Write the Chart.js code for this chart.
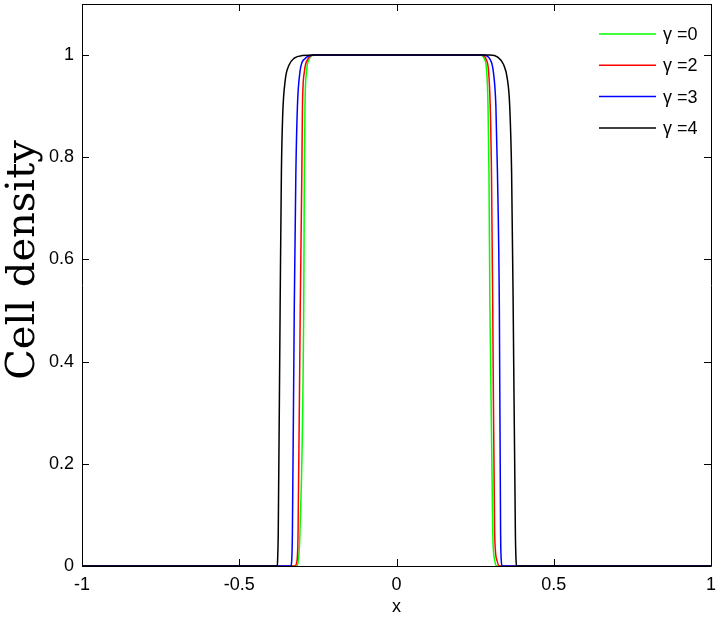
<!DOCTYPE html>
<html>
<head>
<meta charset="utf-8">
<script src="https://cdn.jsdelivr.net/npm/chart.js@4/dist/chart.umd.min.js"></script>
<style>
html,body{margin:0;padding:0;background:#fff;}
#wrap{width:720px;height:621px;}
</style>
</head>
<body>
<div id="wrap"><canvas id="c" width="720" height="621"></canvas></div>
<script>
// ---- data ----
const seriesLabels = ['\u03b3 =0', '\u03b3 =2', '\u03b3 =3', '\u03b3 =4'];
const seriesColors = ['#00ff00', '#ff0000', '#0000ff', '#000000'];

const xGamma0 = [-1, -0.317, -0.312, -0.307, -0.295, -0.293, -0.291, -0.286, -0.278, -0.262, 0.265, 0.280, 0.287, 0.291, 0.294, 0.297, 0.306, 0.312, 0.319, 1];
const yGamma0 = [0, 0, 0.012, 0.065, 0.508, 0.77, 0.90, 0.967, 0.992, 1, 1, 0.992, 0.967, 0.90, 0.77, 0.508, 0.065, 0.012, 0, 0];

const xGamma2 = [-1, -0.323, -0.316, -0.313, -0.306, -0.301, -0.299, -0.293, -0.282, -0.262, 0.270, 0.285, 0.293, 0.298, 0.302, 0.306, 0.312, 0.319, 0.327, 1];
const yGamma2 = [0, 0, 0.012, 0.065, 0.508, 0.77, 0.90, 0.967, 0.992, 1, 1, 0.992, 0.967, 0.90, 0.77, 0.508, 0.065, 0.012, 0, 0];

const xGamma3 = [-1, -0.336, -0.333, -0.331, -0.325, -0.320, -0.315, -0.307, -0.293, -0.260, 0.275, 0.297, 0.308, 0.316, 0.321, 0.327, 0.331, 0.333, 0.336, 1];
const yGamma3 = [0, 0, 0.012, 0.065, 0.508, 0.77, 0.90, 0.967, 0.992, 1, 1, 0.992, 0.967, 0.90, 0.77, 0.508, 0.065, 0.012, 0, 0];

const xGamma4 = [-1, -0.379, -0.378, -0.376, -0.370, -0.366, -0.362, -0.354, -0.342, -0.325, -0.300, -0.255, 0.297, 0.322, 0.340, 0.352, 0.360, 0.366, 0.371, 0.378, 0.380, 0.382, 1];
const yGamma4 = [0, 0, 0.012, 0.065, 0.508, 0.77, 0.88, 0.950, 0.980, 0.994, 0.999, 1, 1, 0.996, 0.982, 0.955, 0.90, 0.77, 0.508, 0.065, 0.012, 0, 0];

const xTicks = [-1, -0.5, 0, 0.5, 1];
const yTicks = [0, 0.2, 0.4, 0.6, 0.8, 1];
const xTitle = 'x';
const yTitle = 'Cell density';

// ---- build datasets ----
function pts(xs, ys){ return xs.map((x,i)=>({x:x, y:ys[i]})); }
const seriesX = [xGamma0, xGamma2, xGamma3, xGamma4];
const seriesY = [yGamma0, yGamma2, yGamma3, yGamma4];
const datasets = seriesLabels.map((lab,i)=>({
  label: lab,
  data: pts(seriesX[i], seriesY[i]),
  borderColor: seriesColors[i],
  backgroundColor: seriesColors[i],
  borderWidth: 1.5,
  pointRadius: 0,
  fill: false,
  cubicInterpolationMode: 'monotone',
  order: 4 - i
}));

const TICK_FONT = {family: "'Liberation Sans', Arial, sans-serif", size: 18};

const framePlugin = {
  id: 'frame',
  afterDatasetsDraw(chart){
    const {ctx, chartArea:a, scales} = chart;
    ctx.save();
    ctx.strokeStyle = '#000';
    ctx.lineWidth = 1;
    ctx.beginPath();
    ctx.rect(Math.round(a.left)+0.5, Math.round(a.top)+0.5, Math.round(a.right-a.left), Math.round(a.bottom-a.top));
    ctx.stroke();
    const L = 7;
    ctx.beginPath();
    scales.x.ticks.forEach(t=>{
      const px = Math.round(scales.x.getPixelForValue(t.value))+0.5;
      ctx.moveTo(px, a.bottom); ctx.lineTo(px, a.bottom - L);
      ctx.moveTo(px, a.top); ctx.lineTo(px, a.top + L);
    });
    scales.y.ticks.forEach(t=>{
      const py = Math.round(scales.y.getPixelForValue(t.value))+0.5;
      ctx.moveTo(a.left, py); ctx.lineTo(a.left + L, py);
      ctx.moveTo(a.right, py); ctx.lineTo(a.right - L, py);
    });
    ctx.stroke();
    ctx.restore();
  },
  afterDraw(chart){
    const ctx = chart.ctx;
    // y axis title
    ctx.save();
    ctx.fillStyle = '#000';
    ctx.font = "40px 'DejaVu Serif', serif";
    ctx.translate(34, 260);
    ctx.rotate(-Math.PI/2);
    ctx.textAlign = 'center';
    ctx.textBaseline = 'alphabetic';
    ctx.fillText(yTitle, 0, 0);
    ctx.restore();
    // legend inside the plot
    ctx.save();
    ctx.font = "18px 'Liberation Sans', Arial, sans-serif";
    ctx.textBaseline = 'middle';
    ctx.textAlign = 'left';
    [0,1,2,3].forEach((i,k)=>{
      const y = 34 + k*31.3;
      ctx.strokeStyle = seriesColors[i];
      ctx.lineWidth = 1.5;
      ctx.beginPath();
      ctx.moveTo(599, y); ctx.lineTo(656, y);
      ctx.stroke();
      ctx.fillStyle = '#000';
      ctx.fillText(seriesLabels[i], 663, y + 1);
    });
    ctx.restore();
  }
};

new Chart(document.getElementById('c'), {
  type: 'line',
  data: { datasets: datasets },
  options: {
    responsive: false,
    devicePixelRatio: 1,
    animation: false,
    layout: { padding: { top: 4, right: 9, left: 0, bottom: 0 } },
    plugins: { legend: { display: false }, tooltip: { enabled: false } },
    scales: {
      x: {
        type: 'linear', min: -1, max: 1,
        grid: { display: false, drawTicks: false },
        border: { display: false },
        afterBuildTicks: s => { s.ticks = xTicks.map(v=>({value:v})); },
        afterFit: s => { s.height = 55; s.paddingLeft = 0; s.paddingRight = 0; },
        ticks: { color: '#000', font: TICK_FONT, padding: 8, maxRotation: 0, autoSkip: false,
                 callback: v => String(v) },
        title: { display: true, text: xTitle, color: '#000', font: TICK_FONT, padding: { top: 0, bottom: 3 } }
      },
      y: {
        type: 'linear', min: 0, max: 1.1,
        grid: { display: false, drawTicks: false },
        border: { display: false },
        afterBuildTicks: s => { s.ticks = yTicks.map(v=>({value:v})); },
        afterFit: s => { s.width = 82; s.paddingTop = 0; s.paddingBottom = 0; },
        ticks: { color: '#000', font: TICK_FONT, padding: 8, autoSkip: false,
                 callback: v => String(v) }
      }
    }
  },
  plugins: [framePlugin]
});
</script>
</body>
</html>
